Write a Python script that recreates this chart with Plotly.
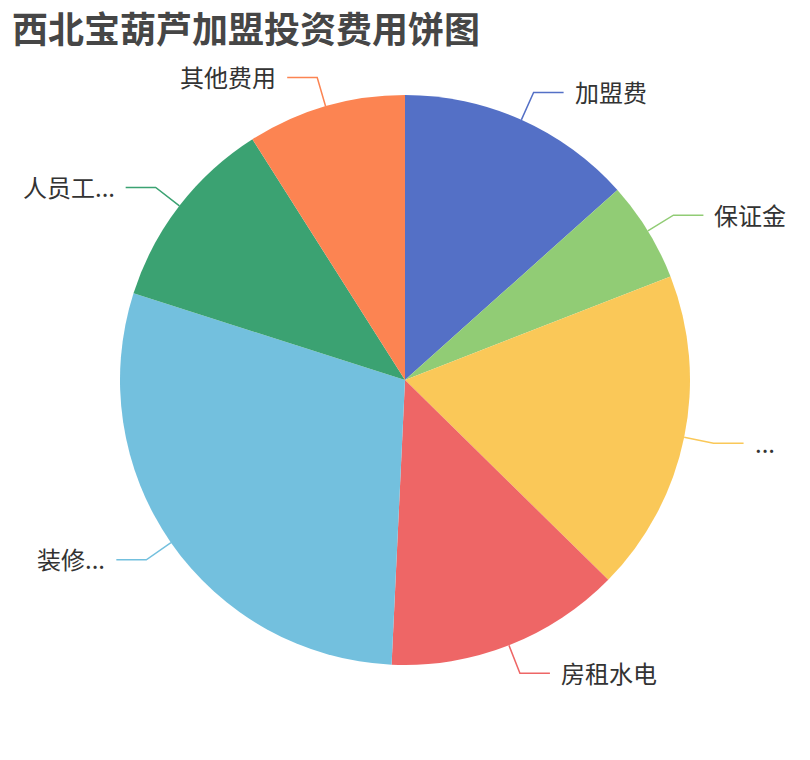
import math
import plotly.graph_objects as go

# Data
labels = ["加盟费", "保证金", "...", "房租水电", "装修...", "人员工...", "其他费用"]
values = [13.4, 5.7, 18.3, 13.4, 29.2, 11.1, 9.0]
colors = ["#5470c6", "#91cc75", "#fac858", "#ee6666", "#73c0de", "#3ba272", "#fc8452"]
title_text = "西北宝葫芦加盟投资费用饼图"

W, H = 810, 760
CX, CY, R = 405, 380, 285
LEN1, LEN2, GAP = 30, 30, 9
FONT = "Noto Sans CJK SC, Noto Sans, sans-serif"

fig = go.Figure(go.Pie(
    labels=labels,
    values=values,
    marker=dict(colors=colors, line=dict(width=0)),
    sort=False,
    direction="clockwise",
    rotation=0,
    textinfo="none",
    hoverinfo="label+value+percent",
    showlegend=False,
    domain=dict(x=[(CX - R) / W, (CX + R) / W], y=[(H - CY - R) / H, (H - CY + R) / H]),
))

def px2paper(x, y):
    return x / W, 1 - y / H

total = sum(values)
cum = 0.0
shapes, annotations = [], []
for lab, val, col in zip(labels, values, colors):
    mid = (cum + val / 2) / total * 2 * math.pi
    cum += val
    sx, sy = CX + R * math.sin(mid), CY - R * math.cos(mid)
    bx, by = CX + (R + LEN1) * math.sin(mid), CY - (R + LEN1) * math.cos(mid)
    right = math.sin(mid) >= 0
    ex = bx + LEN2 if right else bx - LEN2
    tx = ex + GAP if right else ex - GAP
    p = [px2paper(sx, sy), px2paper(bx, by), px2paper(ex, by)]
    path = "M {:.5f},{:.5f} L {:.5f},{:.5f} L {:.5f},{:.5f}".format(*p[0], *p[1], *p[2])
    shapes.append(dict(type="path", xref="paper", yref="paper", path=path,
                       line=dict(color=col, width=1.5)))
    ax, ay = px2paper(tx, by - 1)
    annotations.append(dict(x=ax, y=ay, xref="paper", yref="paper", text=lab,
                            showarrow=False, xanchor="left" if right else "right",
                            yanchor="middle",
                            font=dict(family=FONT, size=24, color="#333333")))

# title as a text annotation placed in the top-left corner
tx0, ty0 = px2paper(10, 27)
annotations.append(dict(x=tx0, y=ty0, xref="paper", yref="paper",
                        text="<b>" + title_text + "</b>", showarrow=False,
                        xanchor="left", yanchor="middle",
                        font=dict(family=FONT, size=36, color="#464646")))

fig.update_layout(
    width=W, height=H,
    margin=dict(l=0, r=0, t=0, b=0),
    paper_bgcolor="white",
    plot_bgcolor="white",
    shapes=shapes,
    annotations=annotations,
)

fig.write_html("out.html", config={"displayModeBar": False},
               post_script="document.body.style.margin='0';")
